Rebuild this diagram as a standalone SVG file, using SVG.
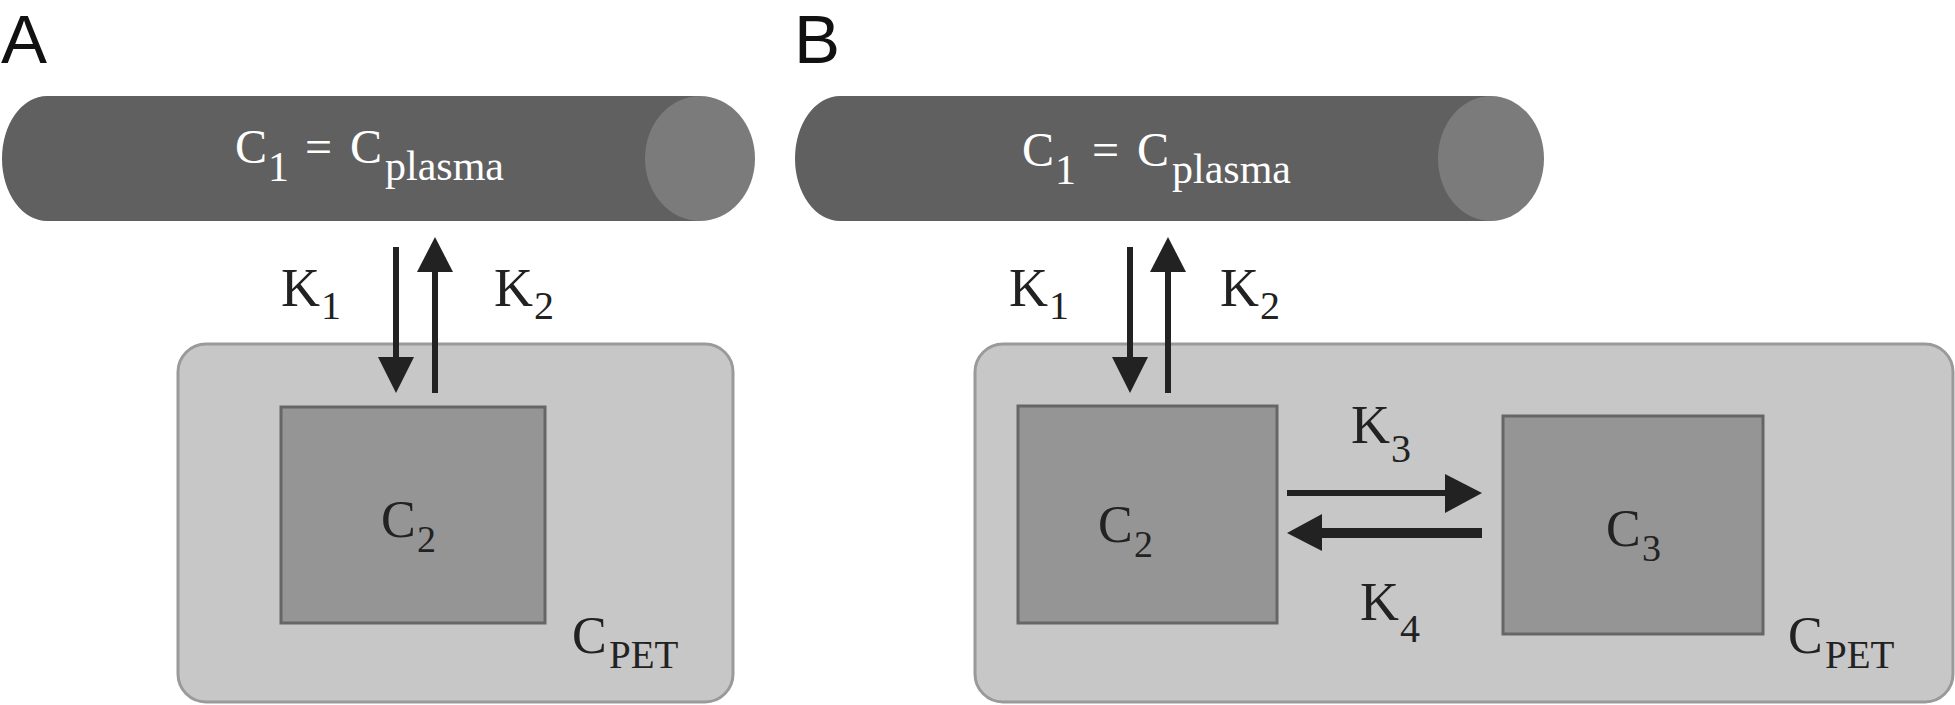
<svg xmlns="http://www.w3.org/2000/svg" width="1955" height="705" viewBox="0 0 1955 705">
<style>
.panel{font-family:"Liberation Sans",Arial,sans-serif;font-size:69px;fill:#111}
.lbl{font-family:"Liberation Serif",Tinos,"Times New Roman",Times,"DejaVu Serif",serif;fill:#222}
.wl{font-family:"Liberation Serif",Tinos,"Times New Roman",Times,"DejaVu Serif",serif;fill:#fff}
.body{fill:#606060}
.cap{fill:#7b7b7b}
.pet{fill:#c7c7c7;stroke:#9a9a9a;stroke-width:3}
.comp{fill:#959595;stroke:#666;stroke-width:3}
.ln{stroke:#222;fill:none}
.hd{fill:#222}
</style>
<rect width="1955" height="705" fill="#fff"/>
<text class="panel" x="1" y="63">A</text>
<text class="panel" x="794" y="63">B</text>

<g id="plasmaA">
<path class="body" d="M47,96 L700,96 L700,221 L47,221 A45,62.5 0 0 1 47,96 Z"/>
<ellipse class="cap" cx="700" cy="158.5" rx="55" ry="62.5"/>
<text class="wl"><tspan x="235" y="163" font-size="48">C</tspan><tspan x="268" y="181" font-size="42">1</tspan><tspan x="305" y="163" font-size="48">=</tspan><tspan x="350" y="163" font-size="48">C</tspan><tspan x="385" y="180" font-size="42">plasma</tspan></text>
</g>

<g id="petA">
<rect class="pet" x="178" y="344" width="555" height="358" rx="28"/>
<text class="lbl"><tspan x="572" y="653" font-size="52">C</tspan><tspan x="609" y="668" font-size="39">PET</tspan></text>
</g>
<g id="c2A">
<rect class="comp" x="281" y="407" width="264" height="216"/>
<text class="lbl"><tspan x="381" y="537" font-size="52">C</tspan><tspan x="417" y="552" font-size="38">2</tspan></text>
</g>

<g id="plasmaB">
<path class="body" d="M840,96 L1491,96 L1491,221 L840,221 A45,62.5 0 0 1 840,96 Z"/>
<ellipse class="cap" cx="1491" cy="158.5" rx="53" ry="62.5"/>
<text class="wl"><tspan x="1022" y="166" font-size="48">C</tspan><tspan x="1055" y="184" font-size="42">1</tspan><tspan x="1092" y="166" font-size="48">=</tspan><tspan x="1137" y="166" font-size="48">C</tspan><tspan x="1172" y="183" font-size="42">plasma</tspan></text>
</g>

<g id="petB">
<rect class="pet" x="975" y="344" width="978" height="358" rx="28"/>
<text class="lbl"><tspan x="1788" y="653" font-size="52">C</tspan><tspan x="1825" y="668" font-size="39">PET</tspan></text>
</g>
<g id="c2B">
<rect class="comp" x="1018" y="406" width="259" height="217"/>
<text class="lbl"><tspan x="1098" y="542" font-size="52">C</tspan><tspan x="1134" y="557" font-size="38">2</tspan></text>
</g>
<g id="c3B">
<rect class="comp" x="1503" y="416" width="260" height="218"/>
<text class="lbl"><tspan x="1606" y="546" font-size="52">C</tspan><tspan x="1642" y="561" font-size="38">3</tspan></text>
</g>

<g id="connectors">
<line class="ln" x1="396" y1="247" x2="396" y2="360" stroke-width="6"/>
<polygon class="hd" points="378,357 414,357 396,393"/>
<line class="ln" x1="435" y1="393" x2="435" y2="268" stroke-width="6"/>
<polygon class="hd" points="417,272 453,272 435,237"/>

<line class="ln" x1="1130" y1="247" x2="1130" y2="360" stroke-width="6"/>
<polygon class="hd" points="1112,357 1148,357 1130,393"/>
<line class="ln" x1="1168" y1="393" x2="1168" y2="268" stroke-width="6"/>
<polygon class="hd" points="1150,272 1186,272 1168,237"/>

<line class="ln" x1="1287" y1="493" x2="1450" y2="493" stroke-width="6"/>
<polygon class="hd" points="1445,474 1445,513 1482,493"/>
<line class="ln" x1="1482" y1="533" x2="1318" y2="533" stroke-width="10"/>
<polygon class="hd" points="1287,533 1322,514 1322,551"/>
</g>

<g id="labels">
<text class="lbl"><tspan x="281" y="306" font-size="54">K</tspan><tspan x="321" y="319" font-size="40">1</tspan></text>
<text class="lbl"><tspan x="494" y="306" font-size="54">K</tspan><tspan x="534" y="319" font-size="40">2</tspan></text>
<text class="lbl"><tspan x="1009" y="306" font-size="54">K</tspan><tspan x="1049" y="319" font-size="40">1</tspan></text>
<text class="lbl"><tspan x="1220" y="306" font-size="54">K</tspan><tspan x="1260" y="319" font-size="40">2</tspan></text>
<text class="lbl"><tspan x="1351" y="443" font-size="54">K</tspan><tspan x="1391" y="462" font-size="40">3</tspan></text>
<text class="lbl"><tspan x="1360" y="620" font-size="54">K</tspan><tspan x="1400" y="642" font-size="40">4</tspan></text>
</g>
</svg>
